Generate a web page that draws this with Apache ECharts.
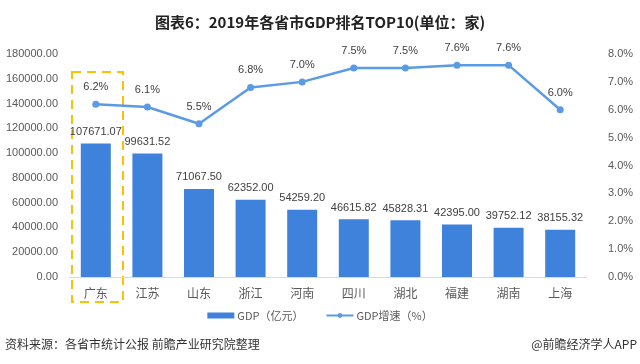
<!DOCTYPE html>
<html><head><meta charset="utf-8">
<script src="https://cdn.jsdelivr.net/npm/echarts@6/dist/echarts.min.js"></script>
<style>html,body{margin:0;padding:0;background:#fff}#c{width:640px;height:364px}</style>
</head><body><div id="c"></div>
<script>
var categories = ['广东','江苏','山东','浙江','河南','四川','湖北','福建','湖南','上海'];
var gdpValues = [107671.07, 99631.52, 71067.50, 62352.00, 54259.20, 46615.82, 45828.31, 42395.00, 39752.12, 38155.32];
var growthValues = [6.2, 6.1, 5.5, 6.8, 7.0, 7.5, 7.5, 7.6, 7.6, 6.0];
var seriesNames = ['GDP（亿元）', 'GDP增速（%）'];

var chart = echarts.init(document.getElementById('c'), null, {renderer:'canvas'});
var font = 'Microsoft YaHei, "Noto Sans CJK SC", sans-serif';
chart.setOption({
  animation:false,
  backgroundColor:'#fff',
  title:{text:'图表6：2019年各省市GDP排名TOP10(单位：家)', left:'center', top:10,
    textStyle:{fontSize:15, fontWeight:'bold', color:'#222', fontFamily:font}},
  legend:{bottom:38, left:'center', itemWidth:27, itemHeight:6, itemGap:22,
    textStyle:{fontSize:11, color:'#595959', fontFamily:font, padding:[0,0,0,-2]},
    data:[{name:seriesNames[0], icon:'rect'},{name:seriesNames[1]}]},
  grid:{left:70, right:54, top:54, bottom:87},
  xAxis:{type:'category', data:categories,
    axisLine:{lineStyle:{color:'#d9d9d9'}}, axisTick:{show:false},
    axisLabel:{color:'#595959', fontSize:12, margin:10, fontFamily:font}},
  yAxis:[
    {type:'value', min:0, max:180000, interval:20000, splitLine:{show:false},
     axisLine:{show:false}, axisTick:{show:false},
     axisLabel:{color:'#595959', fontSize:11, margin:12, formatter:function(v){return v.toFixed(2);}}},
    {type:'value', min:0, max:8, interval:1, splitLine:{show:false},
     axisLine:{show:false}, axisTick:{show:false},
     axisLabel:{color:'#595959', fontSize:11, margin:22, formatter:function(v){return v.toFixed(1)+'%';}}}
  ],
  series:[
    {name:seriesNames[0], type:'bar', data:gdpValues, barWidth:30,
     itemStyle:{color:'#3e82dc'},
     label:{show:true, position:'top', distance:6, color:'#404040', fontSize:11,
       formatter:function(p){return p.value.toFixed(2);}}},
    {name:seriesNames[1], type:'line', yAxisIndex:1, data:growthValues,
     symbol:'circle', symbolSize:7,
     lineStyle:{color:'#5b9be6', width:2.5}, itemStyle:{color:'#5b9be6'},
     label:{show:true, position:'top', distance:8, color:'#404040', fontSize:11,
       formatter:function(p){return p.value.toFixed(1)+'%';}}}
  ],
  graphic:[
    {type:'rect', shape:{x:72, y:72, width:51, height:230},
     style:{fill:'none', stroke:'#ffc000', lineWidth:2, lineDash:[9,6]}},
    {type:'text', left:5, top:338, style:{text:'资料来源：各省市统计公报 前瞻产业研究院整理', fill:'#333', fontSize:12, fontFamily:font}},
    {type:'text', right:3, top:338, style:{text:'@前瞻经济学人APP', fill:'#333', fontSize:12, fontFamily:font}}
  ]
});
</script></body></html>
